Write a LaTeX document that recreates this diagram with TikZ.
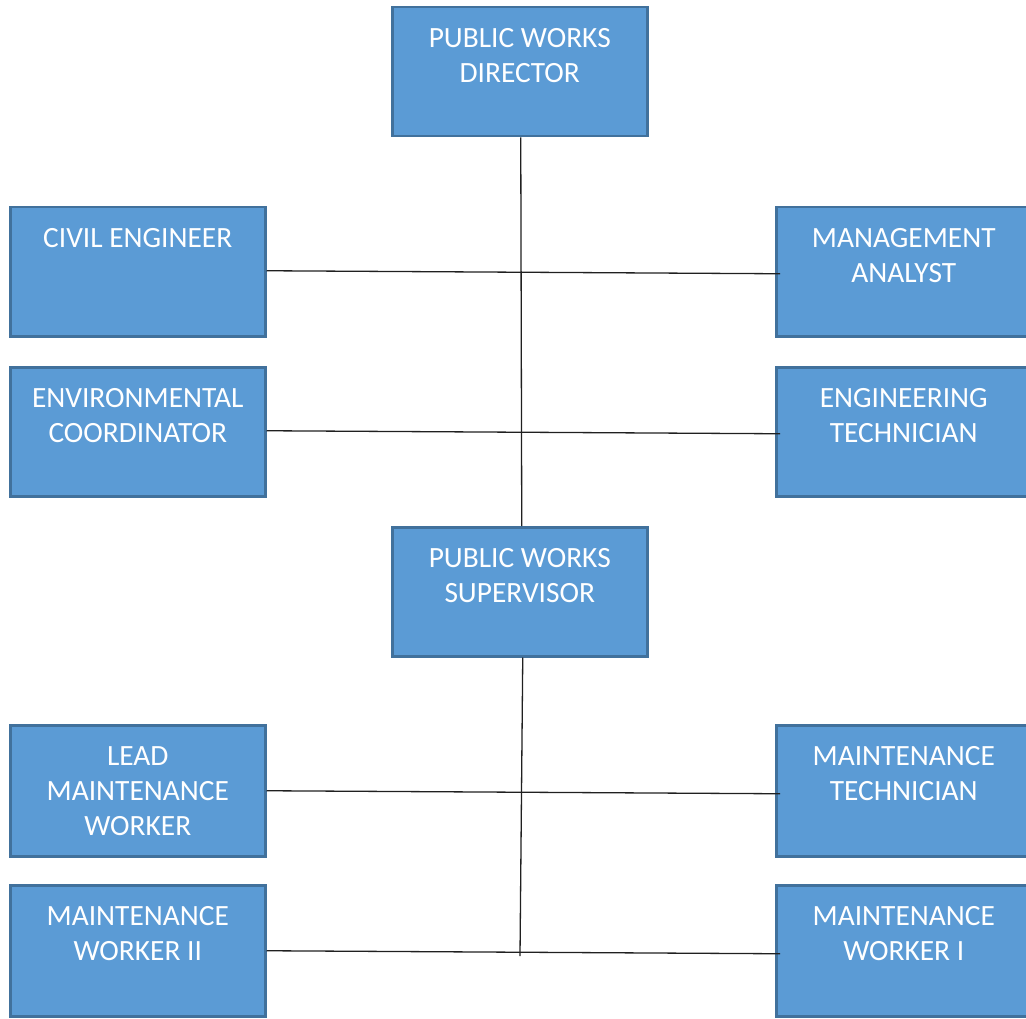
\documentclass[tikz,border=0pt]{standalone}
\usepackage{fontspec}
\setmainfont{Carlito}
\definecolor{boxfill}{HTML}{5B9BD5}
\definecolor{boxedge}{HTML}{41719C}
\definecolor{linkcol}{HTML}{202020}
% box contents: text hung from the top edge of a fixed-size box
\newcommand\boxtext[2][129]{\parbox[b][#1pt][t]{255pt}{\centering\fontsize{29.4}{35}\selectfont\rule{0pt}{40pt}#2}}
\begin{document}
\begin{tikzpicture}[x=1pt,y=-1pt,
  orgbox/.style={draw=boxedge, fill=boxfill, line width=2.5pt, inner sep=0pt, anchor=north west, text=white},
  link/.style={draw=linkcol, line width=1.3pt}]
\useasboundingbox (0,0) rectangle (1026,1019);

% upper section
\node[orgbox] (director)   at (391,6)   {\boxtext{PUBLIC WORKS\\DIRECTOR}};
\node[orgbox] (civil)      at (9,206)   {\boxtext{CIVIL ENGINEER}};
\node[orgbox] (analyst)    at (775,206) {\boxtext{MANAGEMENT\\ANALYST}};
\node[orgbox] (envcoord)   at (9,366)   {\boxtext{ENVIRONMENTAL\\COORDINATOR}};
\node[orgbox] (engtech)    at (775,366) {\boxtext{ENGINEERING\\TECHNICIAN}};

% lower section
\node[orgbox] (supervisor) at (391,526) {\boxtext{PUBLIC WORKS\\SUPERVISOR}};
\node[orgbox] (leadmw)     at (9,724)   {\boxtext[131]{LEAD\\MAINTENANCE\\WORKER}};
\node[orgbox] (mainttech)  at (775,724) {\boxtext[131]{MAINTENANCE\\TECHNICIAN}};
\node[orgbox] (mworker2)   at (9,884)   {\boxtext[131]{MAINTENANCE\\WORKER II}};
\node[orgbox] (mworker1)   at (775,884) {\boxtext[131]{MAINTENANCE\\WORKER I}};

\coordinate (trunkend) at (520,956);

% vertical trunks
\draw[link] ([xshift=1pt]director.south) -- ([xshift=2pt]supervisor.north);
\draw[link] ([xshift=3pt]supervisor.south) -- (trunkend);

% cross links
\draw[link] ([xshift=0pt,yshift=1pt]civil.east) -- ([xshift=5pt,yshift=-2pt]analyst.west);
\draw[link] ([xshift=0pt,yshift=1pt]envcoord.east) -- ([xshift=5pt,yshift=-2pt]engtech.west);
\draw[link] ([xshift=0pt]leadmw.east) -- ([xshift=5pt,yshift=-3pt]mainttech.west);
\draw[link] ([xshift=0pt]mworker2.east) -- ([xshift=5pt,yshift=-3pt]mworker1.west);
\end{tikzpicture}
\end{document}
